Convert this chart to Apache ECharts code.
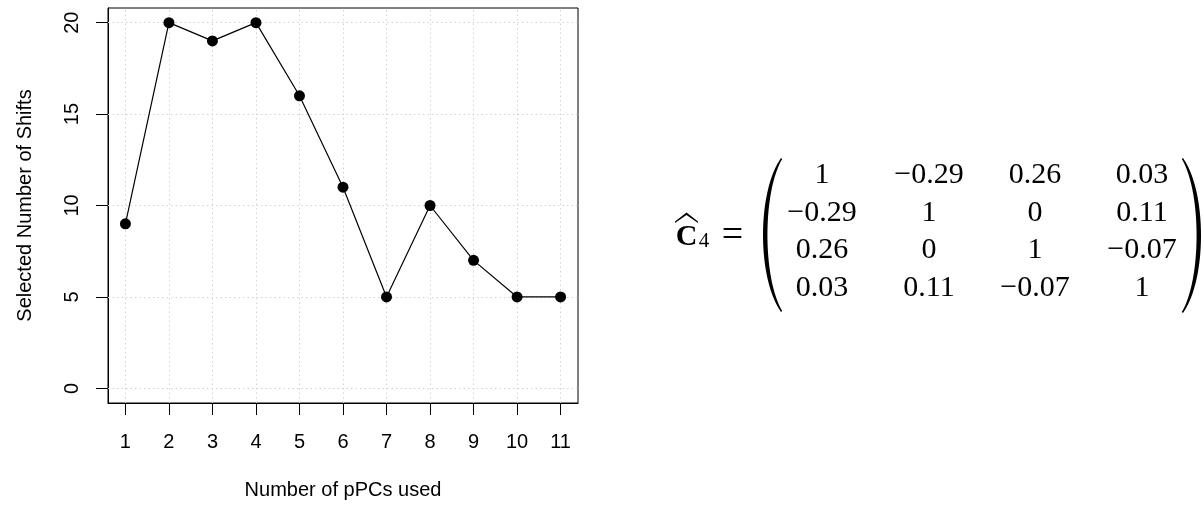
<!DOCTYPE html>
<html>
<head>
<meta charset="utf-8">
<script src="https://cdn.jsdelivr.net/npm/echarts@6/dist/echarts.min.js"></script>
<style>
html,body{margin:0;padding:0;background:#fff;}
#chart{width:1204px;height:506px;}
</style>
</head>
<body>
<div id="chart"></div>
<script>
// ---- data ----
const pcsUsed = [1, 2, 3, 4, 5, 6, 7, 8, 9, 10, 11];
const selectedShifts = [9, 20, 19, 20, 16, 11, 5, 10, 7, 5, 5];
const yTickValues = [0, 5, 10, 15, 20];
const xTitle = 'Number of pPCs used';
const yTitle = 'Selected Number of Shifts';
const matrixRow1 = [1, -0.29, 0.26, 0.03];
const matrixRow2 = [-0.29, 1, 0, 0.11];
const matrixRow3 = [0.26, 0, 1, -0.07];
const matrixRow4 = [0.03, 0.11, -0.07, 1];
const matrixRows = [matrixRow1, matrixRow2, matrixRow3, matrixRow4];

// ---- helpers ----
function fmt(v) {
  if (Number.isInteger(v)) return String(v);
  return (v < 0 ? '\u2212' : '') + Math.abs(v).toFixed(2);
}
const sans = 'Liberation Sans, Arial, Helvetica, sans-serif';
const serif = 'Liberation Serif, Times New Roman, serif';

function cubic(p0, p1, p2, p3, n) {
  const pts = [];
  for (let i = 0; i <= n; i++) {
    const t = i / n, u = 1 - t;
    pts.push([
      u*u*u*p0[0] + 3*u*u*t*p1[0] + 3*u*t*t*p2[0] + t*t*t*p3[0],
      u*u*u*p0[1] + 3*u*u*t*p1[1] + 3*u*t*t*p2[1] + t*t*t*p3[1]
    ]);
  }
  return pts;
}
function parenShape(xEnd, bulgeOuter, bulgeInner, yTop, yBot, dir) {
  const outer = cubic([xEnd, yTop], [bulgeOuter, yTop + 34], [bulgeOuter, yBot - 34], [xEnd, yBot], 40);
  const inner = cubic([xEnd - dir * 1.2, yBot - 1], [bulgeInner, yBot - 34], [bulgeInner, yTop + 34], [xEnd - dir * 1.2, yTop + 1], 40);
  return outer.concat(inner);
}

// matrix layout
const colX = [822, 929, 1035, 1142];
const rowY = [175, 213, 250.5, 288];
const graphics = [];
matrixRows.forEach((row, r) => {
  row.forEach((v, c) => {
    graphics.push({
      type: 'text', x: colX[c], y: rowY[r], silent: true,
      style: { text: fmt(v), font: '30px ' + serif, fill: '#000', align: 'center', verticalAlign: 'middle' }
    });
  });
});
// C hat
graphics.push({ type: 'text', x: 686.5, y: 237.5, silent: true,
  style: { text: 'C', font: 'bold 30px ' + serif, fill: '#000', align: 'center', verticalAlign: 'middle' } });
graphics.push({ type: 'polygon', silent: true,
  shape: { points: [[675, 221.5], [686.5, 212.5], [698, 221.5], [698, 223], [686.5, 215], [675, 223]] },
  style: { fill: '#000' } });
graphics.push({ type: 'text', x: 704, y: 241.5, silent: true,
  style: { text: '4', font: '21px ' + serif, fill: '#000', align: 'center', verticalAlign: 'middle' } });
graphics.push({ type: 'text', x: 732.5, y: 236, silent: true,
  style: { text: '=', font: '38px ' + serif, fill: '#000', align: 'center', verticalAlign: 'middle' } });
// parentheses
graphics.push({ type: 'polygon', silent: true,
  shape: { points: parenShape(781, 757, 762.5, 158, 312, -1) },
  style: { fill: '#000' } });
graphics.push({ type: 'polygon', silent: true,
  shape: { points: parenShape(1183, 1207, 1201.5, 158, 313, 1) },
  style: { fill: '#000' } });

const gridLineData = pcsUsed.map(v => ({ xAxis: v })).concat(yTickValues.map(v => ({ yAxis: v })));

const chart = echarts.init(document.getElementById('chart'), null, { renderer: 'canvas' });
chart.setOption({
  animation: false,
  backgroundColor: '#fff',
  grid: {
    left: 108, right: 626, top: 8, bottom: 103,
    show: true, borderColor: '#000', borderWidth: 1, backgroundColor: 'transparent',
    containLabel: false, outerBoundsMode: 'none'
  },
  xAxis: {
    type: 'value', min: 0.6, max: 11.4,
    name: xTitle, nameLocation: 'middle', nameGap: 77,
    nameTextStyle: { fontFamily: sans, fontSize: 20, color: '#000' },
    axisLine: { show: true, onZero: false, lineStyle: { color: '#000', width: 1 } },
    axisTick: { show: true, customValues: pcsUsed, length: 12, inside: false, lineStyle: { color: '#000', width: 1 } },
    axisLabel: { show: true, customValues: pcsUsed, margin: 29, fontFamily: sans, fontSize: 20, color: '#000' },
    splitLine: { show: false }
  },
  yAxis: {
    type: 'value', min: -0.8, max: 20.8,
    name: yTitle, nameLocation: 'middle', nameGap: 73, nameRotate: 90,
    nameTextStyle: { fontFamily: sans, fontSize: 20, color: '#000' },
    axisLine: { show: true, onZero: false, lineStyle: { color: '#000', width: 1 } },
    axisTick: { show: true, customValues: yTickValues, length: 12, inside: false, lineStyle: { color: '#000', width: 1 } },
    axisLabel: { show: true, customValues: yTickValues, rotate: 90, margin: 26, fontFamily: sans, fontSize: 20, color: '#000' },
    splitLine: { show: false }
  },
  series: [{
    type: 'line',
    data: pcsUsed.map((x, i) => [x, selectedShifts[i]]),
    symbol: 'circle', symbolSize: 11,
    itemStyle: { color: '#000' },
    lineStyle: { color: '#000', width: 1.2 },
    z: 3,
    markLine: {
      silent: true, symbol: 'none', z: 1,
      label: { show: false },
      lineStyle: { color: '#d3d3d3', type: [1.5, 3], width: 1 },
      emphasis: { disabled: true },
      data: gridLineData
    }
  }],
  graphic: graphics
});
</script>
</body>
</html>
